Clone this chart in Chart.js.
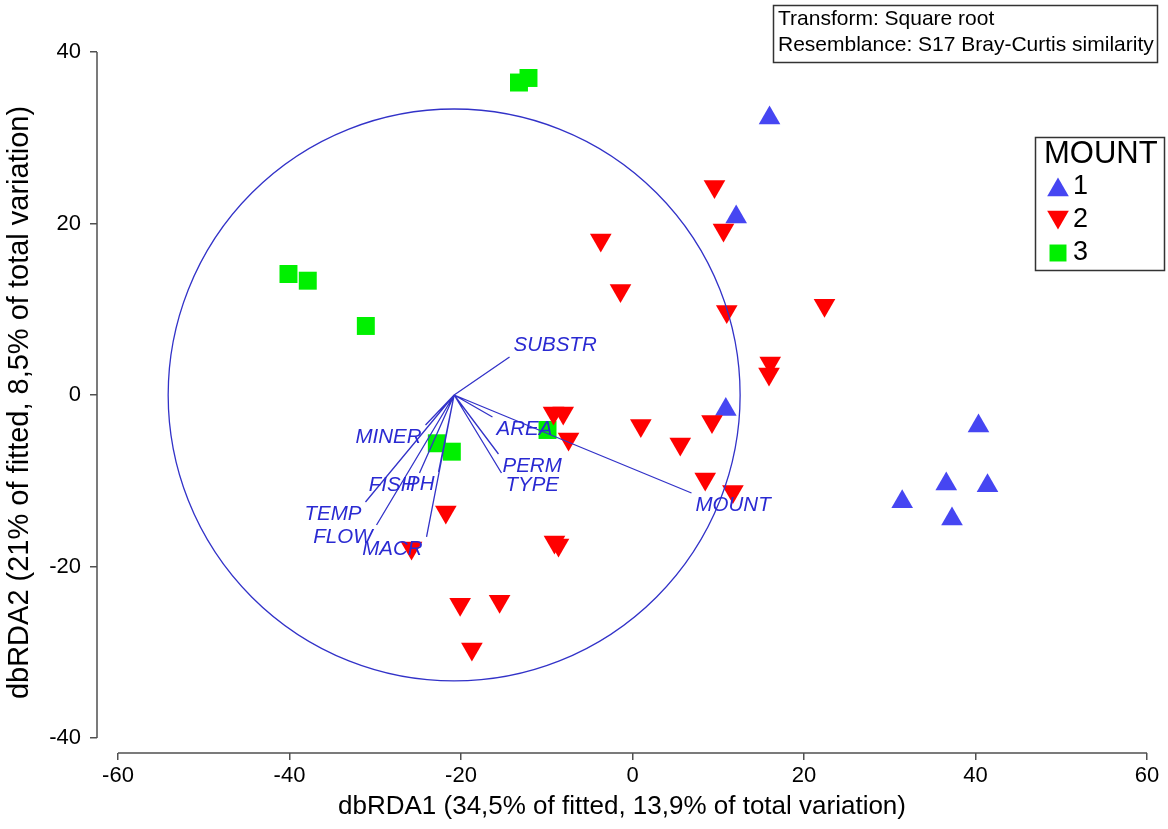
<!DOCTYPE html>
<html>
<head>
<meta charset="utf-8">
<script src="https://cdn.jsdelivr.net/npm/chart.js@4.4.1/dist/chart.umd.min.js"></script>
<style>
  html, body { margin: 0; padding: 0; background: #ffffff; }
  #wrap { width: 1168px; height: 829px; }
</style>
</head>
<body>
<div id="wrap"><canvas id="c" width="1168" height="829"></canvas></div>
<script>
// dbRDA ordination scores, grouped by the MOUNT factor
const groupNames = ['1', '2', '3'];
const mount1 = [[15.98, 32.30], [12.09, 20.76], [10.88, -1.69], [40.35, -3.62],
                [36.59, -10.38], [41.40, -10.59], [31.45, -12.44], [37.26, -14.46]];
const mount2 = [[9.56, 24.32], [10.61, 19.24], [-3.70, 18.08], [-1.40, 12.20],
                [10.99, 9.75], [22.39, 10.46], [16.06, 3.73], [15.92, 2.45],
                [-9.21, -2.10], [-8.08, -2.10], [-7.46, -5.13], [0.97, -3.55],
                [5.57, -5.71], [9.27, -3.09], [8.48, -9.80], [11.71, -11.25],
                [-21.77, -13.64], [-25.77, -17.84], [-8.63, -17.49], [-9.10, -17.14],
                [-20.10, -24.41], [-15.50, -24.05], [-18.73, -29.62]];
const mount3 = [[-13.24, 36.44], [-12.13, 36.97], [-40.12, 14.11], [-37.87, 13.33],
                [-31.10, 8.05], [-22.82, -5.63], [-21.07, -6.61], [-9.91, -4.08]];

// predictor vectors (drawn from a common origin) and the correlation circle
const vectorNames = ['SUBSTR', 'AREA', 'PERM', 'TYPE', 'MOUNT', 'MINER',
                     'FISH', 'PH', 'TEMP', 'FLOW', 'MACR'];
const vectorEnds = [[-14.34, 4.43], [-16.33, -2.57], [-15.63, -6.88], [-15.28, -9.10],
                    [6.88, -11.43], [-24.14, -3.50], [-24.84, -9.10], [-22.62, -8.98],
                    [-31.14, -12.48], [-29.85, -15.16], [-24.02, -16.56]];
const vectorOrigin = [-20.8, 0];
const circleRadius = 33.35;

const xTicks = [-60, -40, -20, 0, 20, 40, 60];
const yTicks = [-40, -20, 0, 20, 40];
const xTitle = 'dbRDA1 (34,5% of fitted, 13,9% of total variation)';
const yTitle = 'dbRDA2 (21% of fitted, 8,5% of total variation)';
const noteLines = ['Transform: Square root', 'Resemblance: S17 Bray-Curtis similarity'];
const legendTitle = 'MOUNT';

const FONT = '"Liberation Sans", Arial, sans-serif';
const COL_BLUE = '#4646f2';
const COL_RED = '#ff0000';
const COL_GREEN = '#00f000';
const COL_VECTOR = '#3232c8';
const COL_LABEL = '#2a2ad2';
const COL_AXIS = '#505050';

Chart.defaults.font.family = FONT;

const toPoints = arr => arr.map(p => ({ x: p[0], y: p[1] }));

// every vector becomes origin -> end, separated by a gap
const vectorSegments = [];
vectorEnds.forEach(e => {
  vectorSegments.push({ x: vectorOrigin[0], y: vectorOrigin[1] });
  vectorSegments.push({ x: e[0], y: e[1] });
  vectorSegments.push({ x: e[0], y: null });
});

const groupStyles = [
  { color: COL_BLUE, pointStyle: 'triangle', rotation: 0, radius: 12.5 },
  { color: COL_RED, pointStyle: 'triangle', rotation: 180, radius: 12.5 },
  { color: COL_GREEN, pointStyle: 'rect', rotation: 0, radius: 12.7 }
];

const overlay = {
  id: 'overlay',
  afterDatasetsDraw(chart) {
    const { ctx, scales: { x, y } } = chart;
    const cx = x.getPixelForValue(vectorOrigin[0]);
    const cy = y.getPixelForValue(vectorOrigin[1]);
    const r = x.getPixelForValue(vectorOrigin[0] + circleRadius) - cx;
    ctx.save();
    ctx.strokeStyle = COL_VECTOR;
    ctx.lineWidth = 1.3;
    ctx.beginPath();
    ctx.arc(cx, cy, r, 0, Math.PI * 2);
    ctx.stroke();

    ctx.font = 'italic 20.5px ' + FONT;
    ctx.fillStyle = COL_LABEL;
    ctx.textBaseline = 'middle';
    vectorNames.forEach((name, i) => {
      const ex = x.getPixelForValue(vectorEnds[i][0]);
      const ey = y.getPixelForValue(vectorEnds[i][1]);
      const toRight = ex >= cx;
      ctx.textAlign = toRight ? 'left' : 'right';
      ctx.fillText(name, ex + (toRight ? 4 : -4), ey + (ey >= cy ? 12 : -12));
    });
    ctx.restore();
  },
  afterDraw(chart) {
    const { ctx, chartArea, scales: { x, y } } = chart;
    ctx.save();
    // detached axis lines spanning the tick range
    ctx.strokeStyle = COL_AXIS;
    ctx.lineWidth = 1.5;
    ctx.beginPath();
    ctx.moveTo(x.getPixelForValue(xTicks[0]), chartArea.bottom);
    ctx.lineTo(x.getPixelForValue(xTicks[xTicks.length - 1]), chartArea.bottom);
    ctx.moveTo(chartArea.left, y.getPixelForValue(yTicks[yTicks.length - 1]));
    ctx.lineTo(chartArea.left, y.getPixelForValue(yTicks[0]));
    ctx.stroke();

    // note box, top right
    ctx.strokeStyle = '#333333';
    ctx.lineWidth = 1.5;
    ctx.strokeRect(773.5, 5.5, 384, 57);
    ctx.fillStyle = '#000000';
    ctx.font = '21px ' + FONT;
    ctx.textAlign = 'left';
    ctx.textBaseline = 'middle';
    ctx.fillText(noteLines[0], 778, 19);
    ctx.fillText(noteLines[1], 778, 45);

    // legend
    ctx.strokeRect(1035.5, 137.5, 129, 133);
    ctx.font = '31px ' + FONT;
    ctx.fillText(legendTitle, 1044, 154);
    const rowY = [187, 220, 253];
    ctx.font = '27px ' + FONT;
    groupNames.forEach((g, i) => {
      const st = groupStyles[i];
      ctx.fillStyle = st.color;
      Chart.helpers.drawPoint(ctx, {
        pointStyle: st.pointStyle, rotation: st.rotation,
        radius: st.pointStyle === 'rect' ? 12 : 12.5, borderWidth: 0
      }, 1058, rowY[i] + (st.pointStyle === 'triangle' ? (st.rotation ? -3 : 3) : 0));
      ctx.fillStyle = '#000000';
      ctx.fillText(g, 1073, rowY[i]);
    });
    ctx.restore();
  }
};

const datasets = [
  {
    label: 'vectors', data: vectorSegments, showLine: true, spanGaps: false,
    borderColor: COL_VECTOR, borderWidth: 1.3, pointRadius: 0, order: 1
  }
];
[mount1, mount2, mount3].forEach((arr, i) => {
  const st = groupStyles[i];
  datasets.push({
    label: groupNames[i], data: toPoints(arr),
    pointStyle: st.pointStyle, rotation: st.rotation, pointRadius: st.radius,
    backgroundColor: st.color, borderColor: st.color, borderWidth: 0,
    order: [3, 2, 4][i]
  });
});

new Chart(document.getElementById('c'), {
  type: 'scatter',
  data: { datasets },
  options: {
    responsive: false,
    animation: false,
    events: [],
    layout: { padding: { top: 52, right: 21, left: 0, bottom: 0 } },
    plugins: { legend: { display: false }, tooltip: { enabled: false } },
    scales: {
      x: {
        type: 'linear', min: -62.45, max: 60,
        afterBuildTicks: s => { s.ticks = xTicks.map(v => ({ value: v })); },
        afterFit: s => { s.height = 76; },
        grid: { drawOnChartArea: false, drawTicks: true, tickLength: 7, color: COL_AXIS, lineWidth: 1.5 },
        border: { display: false },
        ticks: { color: '#000000', font: { size: 22 }, padding: 3, maxRotation: 0, autoSkip: false },
        title: { display: true, text: xTitle, color: '#000000', font: { size: 26 }, padding: { top: 0, bottom: 7 } }
      },
      y: {
        type: 'linear', min: -41.75, max: 40,
        afterBuildTicks: s => { s.ticks = yTicks.map(v => ({ value: v })); },
        afterFit: s => { s.width = 97; },
        grid: { drawOnChartArea: false, drawTicks: true, tickLength: 7, color: COL_AXIS, lineWidth: 1.5 },
        border: { display: false },
        ticks: { color: '#000000', font: { size: 22 }, padding: 9, autoSkip: false },
        title: { display: true, text: yTitle, color: '#000000', font: { size: 29 }, padding: { top: 3, bottom: 0 } }
      }
    }
  },
  plugins: [overlay]
});
</script>
</body>
</html>
